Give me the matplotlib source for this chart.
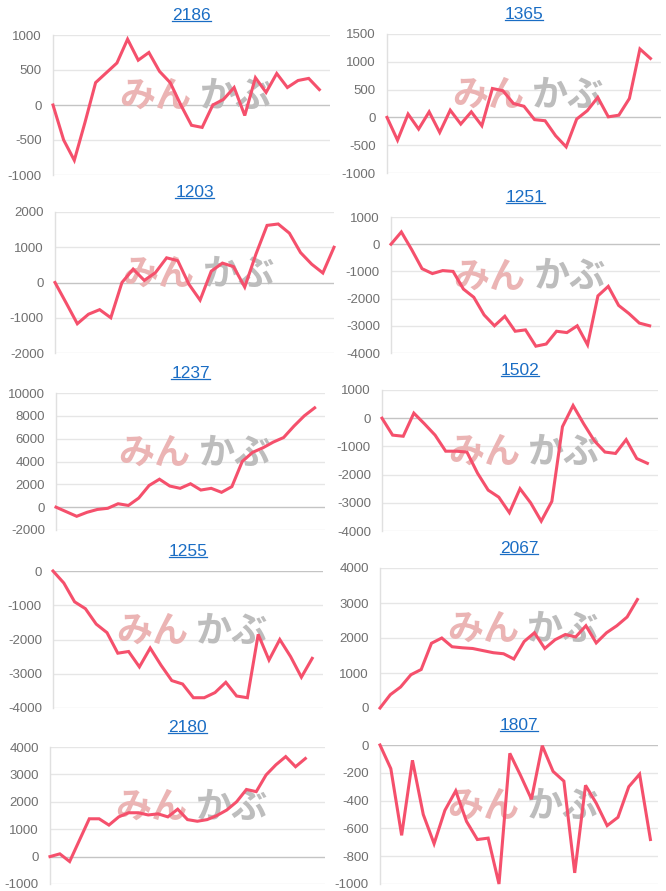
import matplotlib
matplotlib.use('Agg')
import matplotlib.pyplot as plt
from matplotlib.lines import Line2D

plt.rcParams['font.family'] = ['Liberation Sans', 'DejaVu Sans']

# 銘柄コード
codes = ['2186', '1365', '1203', '1251', '1237', '1502', '1255', '2067', '2180', '1807']

s2186 = [0, -500, -790, -250, 320, 460, 600, 940, 640, 750, 480, 320, 0, -290, -320, 0,
         80, 250, -150, 390, 180, 450, 250, 350, 380, 220]
s1365 = [0, -410, 60, -210, 100, -270, 130, -120, 100, -150, 520, 480, 250, 200, -40, -60,
         -330, -530, -30, 120, 360, 10, 40, 340, 1230, 1060]
s1203 = [0, -580, -1170, -900, -770, -1000, 0, 380, 60, 280, 700, 620, -50, -500, 320, 550,
         450, -130, 800, 1620, 1660, 1400, 850, 520, 270, 1000]
s1251 = [0, 450, -200, -900, -1080, -970, -1000, -1650, -1950, -2600, -3000, -2650, -3200,
         -3150, -3750, -3670, -3200, -3250, -3000, -3700, -1900, -1550, -2250, -2550, -2900, -3000]
s1237 = [0, -400, -800, -450, -200, -100, 300, 150, 800, 1900, 2450, 1850, 1650, 2050, 1500,
         1650, 1300, 1800, 4000, 4800, 5200, 5700, 6100, 7100, 8000, 8700]
s1502 = [0, -600, -640, 180, -200, -600, -1170, -1170, -1200, -1950, -2550, -2800, -3350,
         -2500, -3000, -3650, -2950, -300, 450, -200, -800, -1200, -1250, -760, -1430, -1600]
s1255 = [0, -350, -900, -1100, -1550, -1800, -2400, -2350, -2800, -2250, -2750, -3200, -3300,
         -3700, -3700, -3550, -3250, -3650, -3700, -1850, -2600, -2000, -2500, -3100, -2550]
s2067 = [0, 380, 600, 950, 1100, 1850, 2000, 1750, 1720, 1700, 1640, 1580, 1550, 1400, 1900,
         2150, 1700, 1950, 2100, 2030, 2350, 1860, 2150, 2350, 2600, 3100]
s2180 = [0, 100, -180, 600, 1380, 1380, 1150, 1450, 1600, 1600, 1520, 1560, 1450, 1730, 1350,
         1290, 1350, 1500, 1700, 2000, 2450, 2370, 2980, 3350, 3650, 3280, 3580]
s1807 = [0, -170, -650, -110, -500, -710, -470, -330, -550, -680, -670, -1000, -60, -220, -390,
         -5, -190, -260, -920, -290, -420, -580, -520, -300, -210, -680]

series = [s2186, s1365, s1203, s1251, s1237, s1502, s1255, s2067, s2180, s1807]

# y軸の目盛り
yticks = [
    list(range(-1000, 1001, 500)),
    list(range(-1000, 1501, 500)),
    list(range(-2000, 2001, 1000)),
    list(range(-4000, 1001, 1000)),
    list(range(-2000, 10001, 2000)),
    list(range(-4000, 1001, 1000)),
    list(range(-4000, 1, 1000)),
    list(range(0, 4001, 1000)),
    list(range(-1000, 4001, 1000)),
    list(range(-1000, 1, 200)),
]

# 各グラフの描画領域 (left, top, right, bottom) ピクセル
W, H = 666, 891
boxes = [
    (53, 35, 330, 175), (387, 34, 661, 173),
    (55, 212, 334, 353), (391, 217, 660, 353),
    (56, 393, 325, 530), (382, 390, 658, 531),
    (53, 571, 323, 708), (380, 568, 658, 708),
    (50, 747, 325, 884), (380, 745, 658, 884),
]
xmax = [26, 26, 25, 26, 26, 26, 25, 27, 28, 25.7]

LINE = '#f5506c'
GRID = '#e6e6e6'
ZERO = '#c4c4c4'
TITLE = '#1a6dc4'

fig = plt.figure(figsize=(W / 100, H / 100), dpi=100)
axes = []
for i, (code, s) in enumerate(zip(codes, series)):
    l, t, r, b = boxes[i]
    ax = fig.add_axes([l / W, 1 - b / H, (r - l) / W, (b - t) / H])
    axes.append(ax)
    ticks = yticks[i]
    for v in ticks:
        ax.axhline(v, color=ZERO if v == 0 else GRID, lw=1, zorder=0)
    ax.plot(range(len(s)), s, color=LINE, lw=2.2, solid_joinstyle='miter', zorder=3, clip_on=False)
    ax.set_xlim(0, xmax[i])
    ax.set_ylim(ticks[0], ticks[-1])
    ax.set_yticks(ticks)
    ax.set_yticklabels([str(v) for v in ticks])
    ax.set_xticks([])
    ax.tick_params(axis='y', length=0, pad=8, labelsize=9.5, labelcolor='#707070')
    for sp in ['top', 'right', 'bottom']:
        ax.spines[sp].set_visible(False)
    ax.spines['left'].set_color('#e0e0e0')
    ax.spines['left'].set_linewidth(1)
    # ウォーターマーク
    ax.text(0.50, 0.56, 'みん', transform=ax.transAxes, ha='right', va='center',
            fontsize=26, fontweight='bold', color='#ebb4b4',
            family=['Noto Sans CJK JP'], zorder=1)
    ax.text(0.53, 0.56, 'かぶ', transform=ax.transAxes, ha='left', va='center',
            fontsize=26, fontweight='bold', color='#bdbdbd',
            family=['Noto Sans CJK JP'], zorder=1)
    ax.set_title(code, color=TITLE, fontsize=12.5, pad=11)

# タイトルに下線
fig.canvas.draw()
renderer = fig.canvas.get_renderer()
for ax in axes:
    bb = ax.title.get_window_extent(renderer)
    y = bb.y0 + 1.5
    fig.add_artist(Line2D([bb.x0 / W, bb.x1 / W], [y / H, y / H],
                          transform=fig.transFigure, color=TITLE, lw=0.9))

plt.savefig('out.png', dpi=100)
